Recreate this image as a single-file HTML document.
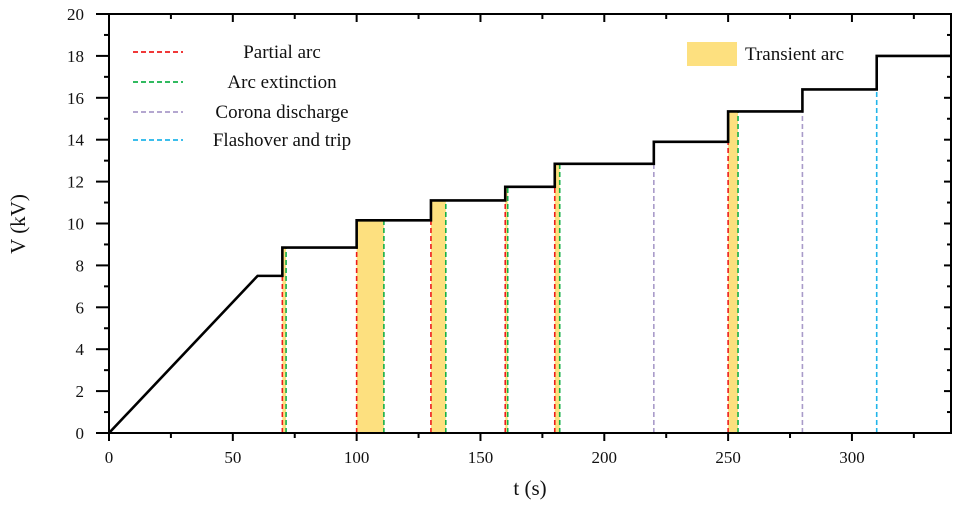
<!DOCTYPE html>
<html><head><meta charset="utf-8"><style>
body{margin:0;background:#fff;}
svg text{font-family:"Liberation Serif",serif;fill:#111;}
</style></head><body>
<svg id="chart" width="960" height="504" viewBox="0 0 960 504" xmlns="http://www.w3.org/2000/svg">
<g id="fills"></g><g id="vlines"></g><g id="axes"></g><g id="series"></g><g id="legend"></g>
</svg>
<script>
const stepTimes = [0, 60, 70, 100, 130, 160, 180, 220, 250, 280, 310, 340];
const stepVolts = [0, 7.5, 8.85, 10.15, 11.1, 11.75, 12.85, 13.9, 15.35, 16.4, 18, 18];
const partialArcTimes = [70, 100, 130, 160, 180, 250];
const extinctionTimes = [71.5, 111, 136, 161, 182, 254];
const coronaTimes = [220, 280];
const flashoverTimes = [310];
const xTicks = [0, 50, 100, 150, 200, 250, 300];
const yTicks = [0, 2, 4, 6, 8, 10, 12, 14, 16, 18, 20];
const NS = "http://www.w3.org/2000/svg";
const X0 = 109, X1 = 951, Y0 = 433, Y1 = 14;
const xs = t => X0 + t / 340 * (X1 - X0);
const ys = v => Y0 - v / 20 * (Y0 - Y1);
function mk(tag, attrs, parent) {
  const e = document.createElementNS(NS, tag);
  for (const k in attrs) e.setAttribute(k, attrs[k]);
  document.getElementById(parent).appendChild(e);
  return e;
}
function vAt(t) {
  let v = 0;
  for (let i = 0; i < stepTimes.length; i++) if (stepTimes[i] <= t) v = stepVolts[i];
  return v;
}
partialArcTimes.forEach((t, i) => {
  const t2 = extinctionTimes[i];
  const r = mk('rect', {x: xs(t), y: ys(vAt(t)), width: xs(t2) - xs(t), height: Y0 - ys(vAt(t)), fill: '#fde07f'}, 'fills');
  
  
});
function vline(t, color, name) {
  const l = mk('line', {x1: xs(t), x2: xs(t), y1: Y0, y2: ys(vAt(t)), stroke: color, 'stroke-width': 1.6, 'stroke-dasharray': '5,3'}, 'vlines');
  
  
}
partialArcTimes.forEach(t => vline(t, '#ee1c1c', 'partial-arc-line'));
extinctionTimes.forEach(t => vline(t, '#14b04a', 'arc-extinction-line'));
coronaTimes.forEach(t => vline(t, '#a99bc9', 'corona-discharge-line'));
flashoverTimes.forEach(t => vline(t, '#21b5ea', 'flashover-line'));
let d = `M${xs(stepTimes[0])},${ys(stepVolts[0])} L${xs(stepTimes[1])},${ys(stepVolts[1])}`;
for (let i = 2; i < stepTimes.length; i++) {
  d += ` L${xs(stepTimes[i])},${ys(stepVolts[i - 1])} L${xs(stepTimes[i])},${ys(stepVolts[i])}`;
}
const p = mk('path', {d, fill: 'none', stroke: '#000', 'stroke-width': 2.6, 'stroke-linejoin': 'miter'}, 'series');


const fr = mk('rect', {x: X0, y: Y1, width: X1 - X0, height: Y0 - Y1, fill: 'none', stroke: '#000', 'stroke-width': 2}, 'axes');


for (let t = 0; t <= 340; t += 25) {
  const maj = t % 50 === 0, L = maj ? 8 : 5;
  mk('line', {x1: xs(t), x2: xs(t), y1: Y0, y2: Y0 + L, stroke: '#000', 'stroke-width': 2}, 'axes');
  mk('line', {x1: xs(t), x2: xs(t), y1: Y1, y2: Y1 + L, stroke: '#000', 'stroke-width': 2}, 'axes');
}
xTicks.forEach(t => {
  const tx = mk('text', {x: xs(t), y: 463, 'text-anchor': 'middle', 'font-size': 17}, 'axes');
  tx.textContent = t;
  
  
});
for (let v = 0; v <= 20; v += 1) {
  const maj = v % 2 === 0;
  mk('line', {x1: X0 - (maj ? 13 : 5), x2: X0, y1: ys(v), y2: ys(v), stroke: '#000', 'stroke-width': 2}, 'axes');
  mk('line', {x1: X1 - (maj ? 7 : 4), x2: X1, y1: ys(v), y2: ys(v), stroke: '#000', 'stroke-width': 2}, 'axes');
}
yTicks.forEach(v => {
  const tx = mk('text', {x: 84, y: ys(v) + 6, 'text-anchor': 'end', 'font-size': 17}, 'axes');
  tx.textContent = v;
  
  
});
const xt = mk('text', {x: 530, y: 495, 'text-anchor': 'middle', 'font-size': 21}, 'axes');
xt.textContent = 't (s)';


const yt = mk('text', {x: 0, y: 0, 'text-anchor': 'middle', 'font-size': 21, transform: 'translate(25,224) rotate(-90)'}, 'axes');
yt.textContent = 'V (kV)';


const legendLabels = ['Partial arc', 'Arc extinction', 'Corona discharge', 'Flashover and trip'];
const legendColors = ['#ee1c1c', '#14b04a', '#a99bc9', '#21b5ea'];
const legendY = [52, 82, 112, 140];
legendLabels.forEach((lab, i) => {
  const l = mk('line', {x1: 133, x2: 183, y1: legendY[i], y2: legendY[i], stroke: legendColors[i], 'stroke-width': 1.8, 'stroke-dasharray': '5,3'}, 'legend');
  
  
  const tx = mk('text', {x: 282, y: legendY[i] + 6, 'text-anchor': 'middle', 'font-size': 19}, 'legend');
  tx.textContent = lab;
  
  
});
const lr = mk('rect', {x: 687, y: 42, width: 50, height: 24, fill: '#fde07f'}, 'legend');


const lt = mk('text', {x: 745, y: 60, 'font-size': 19}, 'legend');
lt.textContent = 'Transient arc';


</script>
</body></html>
